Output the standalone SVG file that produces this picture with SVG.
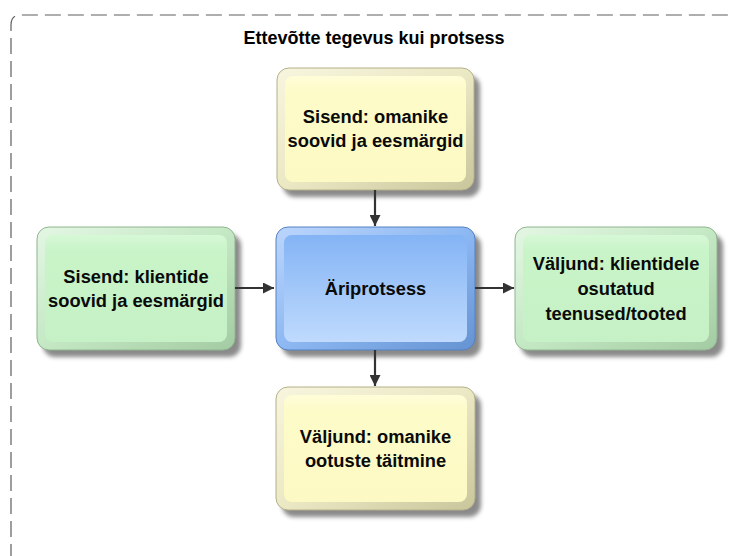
<svg xmlns="http://www.w3.org/2000/svg" width="729" height="556" viewBox="0 0 729 556">
  <defs>
    <filter id="soft" x="-10%" y="-10%" width="120%" height="120%">
      <feGaussianBlur stdDeviation="2"/>
    </filter>
    <!-- bevel rings -->
    <linearGradient id="ringY" x1="0" y1="0" x2="1" y2="1">
      <stop offset="0" stop-color="#f7f5de"/>
      <stop offset="0.5" stop-color="#ebe8c4"/>
      <stop offset="1" stop-color="#c9c69c"/>
    </linearGradient>
    <linearGradient id="ringG" x1="0" y1="0" x2="1" y2="1">
      <stop offset="0" stop-color="#e4f6e4"/>
      <stop offset="0.5" stop-color="#c4e8c4"/>
      <stop offset="1" stop-color="#a3cba3"/>
    </linearGradient>
    <linearGradient id="ringB" x1="0" y1="0" x2="1" y2="1">
      <stop offset="0" stop-color="#bcd6fc"/>
      <stop offset="0.5" stop-color="#8db8f2"/>
      <stop offset="1" stop-color="#6592d2"/>
    </linearGradient>
    <!-- faces -->
    <linearGradient id="faceY" x1="0" y1="0" x2="0" y2="1">
      <stop offset="0" stop-color="#fefdd8"/>
      <stop offset="0.15" stop-color="#fdfbc8"/>
      <stop offset="1" stop-color="#fcf9c4"/>
    </linearGradient>
    <linearGradient id="faceG" x1="0" y1="0" x2="0" y2="1">
      <stop offset="0" stop-color="#d6f8d6"/>
      <stop offset="0.15" stop-color="#c8f4c8"/>
      <stop offset="1" stop-color="#c6f1c6"/>
    </linearGradient>
    <linearGradient id="faceB" x1="0" y1="0" x2="0" y2="1">
      <stop offset="0" stop-color="#84b4f5"/>
      <stop offset="1" stop-color="#bfdafd"/>
    </linearGradient>
    <marker id="arrow" viewBox="0 0 10 10" refX="10" refY="5" markerWidth="5" markerHeight="5" markerUnits="strokeWidth" orient="auto">
      <path d="M0,0 L10,5 L0,10 z" fill="#333"/>
    </marker>
  </defs>
  <style>
    .frame { fill: none; stroke: #5e5e5e; stroke-width: 1.2; stroke-dasharray: 16 7; }
    .title { font-family: "Liberation Sans", Arial, sans-serif; font-weight: bold; font-size: 18px; fill: #000; text-anchor: middle; }
    .shadow { fill: #6e6e6e; opacity: 0.8; filter: url(#soft); }
    .label { font-family: "Liberation Sans", Arial, sans-serif; font-weight: bold; font-size: 18.3px; fill: #0a0a0a; text-anchor: middle; }
    .edge { fill: none; stroke: #333; stroke-width: 2.2; marker-end: url(#arrow); }
    .yl .ring { fill: url(#ringY); stroke: #b3b08a; stroke-width: 1; }
    .yl .face { fill: url(#faceY); }
    .gr .ring { fill: url(#ringG); stroke: #8fb48f; stroke-width: 1; }
    .gr .face { fill: url(#faceG); }
    .bl .ring { fill: url(#ringB); stroke: #5581c0; stroke-width: 1; }
    .bl .face { fill: url(#faceB); }
  </style>

  <rect width="729" height="556" fill="#fff"/>

  <!-- outer dashed boundary, open to the right and bottom -->
  <path class="frame" d="M11,560 L11,25 Q11,15 21,15 L735,15"/>
  <text class="title" x="374" y="44">Ettevõtte tegevus kui protsess</text>

  <g id="node-owner-input" class="yl">
    <rect class="shadow" x="283" y="75" width="197" height="122" rx="12"/>
    <rect class="ring" x="277" y="68" width="197" height="122" rx="12"/>
    <rect class="face" x="285" y="76" width="181" height="106" rx="8"/>
    <text class="label" x="375.5" y="123">Sisend: omanike</text>
    <text class="label" x="375.5" y="147">soovid ja eesmärgid</text>
  </g>

  <g id="node-client-input" class="gr">
    <rect class="shadow" x="43" y="234" width="198" height="123" rx="12"/>
    <rect class="ring" x="37" y="227" width="198" height="123" rx="12"/>
    <rect class="face" x="45" y="235" width="182" height="107" rx="8"/>
    <text class="label" x="136" y="283">Sisend: klientide</text>
    <text class="label" x="136" y="307">soovid ja eesmärgid</text>
  </g>

  <g id="node-process" class="bl">
    <rect class="shadow" x="282" y="234" width="199" height="123" rx="12"/>
    <rect class="ring" x="276" y="227" width="199" height="123" rx="12"/>
    <rect class="face" x="284" y="235" width="183" height="107" rx="8"/>
    <text class="label" x="375.5" y="295">Äriprotsess</text>
  </g>

  <g id="node-client-output" class="gr">
    <rect class="shadow" x="521" y="234" width="202" height="123" rx="12"/>
    <rect class="ring" x="515" y="227" width="202" height="123" rx="12"/>
    <rect class="face" x="523" y="235" width="186" height="107" rx="8"/>
    <text class="label" x="616" y="270">Väljund: klientidele</text>
    <text class="label" x="616" y="295">osutatud</text>
    <text class="label" x="616" y="320">teenused/tooted</text>
  </g>

  <g id="node-owner-output" class="yl">
    <rect class="shadow" x="282" y="394" width="199" height="123" rx="12"/>
    <rect class="ring" x="276" y="387" width="199" height="123" rx="12"/>
    <rect class="face" x="284" y="395" width="183" height="107" rx="8"/>
    <text class="label" x="375.5" y="443">Väljund: omanike</text>
    <text class="label" x="375.5" y="467">ootuste täitmine</text>
  </g>

  <g id="connectors">
    <line class="edge" x1="375" y1="190" x2="375" y2="226"/>
    <line class="edge" x1="235" y1="288" x2="274" y2="288"/>
    <line class="edge" x1="475" y1="288" x2="514" y2="288"/>
    <line class="edge" x1="375" y1="350" x2="375" y2="386"/>
  </g>
</svg>
